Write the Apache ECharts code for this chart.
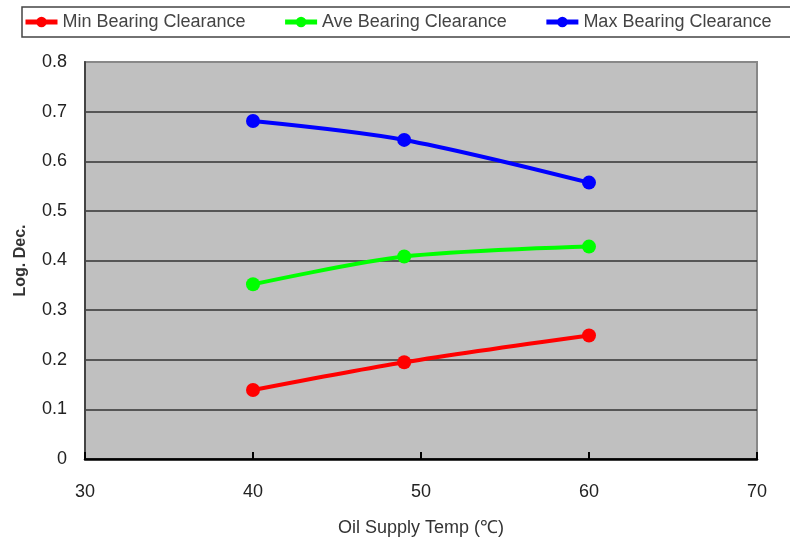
<!DOCTYPE html>
<html>
<head>
<meta charset="utf-8">
<script src="https://cdn.jsdelivr.net/npm/echarts@6/dist/echarts.min.js"></script>
<style>
  html, body { margin: 0; padding: 0; background: #fff; }
  #chart { width: 790px; height: 542px; }
</style>
</head>
<body>
<div id="chart"></div>
<script>
// oil supply temperature (℃)
var temps = [40, 49, 60];
var minClearance = [0.139, 0.195, 0.249];
var aveClearance = [0.352, 0.408, 0.428];
var maxClearance = [0.681, 0.643, 0.557];
var seriesNames = ["Min Bearing Clearance", "Ave Bearing Clearance", "Max Bearing Clearance"];
var seriesColors = ["#ff0000", "#00ff00", "#0000ff"];

function pairs(ys) {
  return temps.map(function (t, i) { return [t, ys[i]]; });
}

var font = "Liberation Sans, Arial, sans-serif";

function makeSeries(idx, ys) {
  return {
    name: seriesNames[idx],
    type: "line",
    data: pairs(ys),
    smooth: 0.3,
    symbol: "circle",
    symbolSize: 14,
    itemStyle: { color: seriesColors[idx] },
    lineStyle: { color: seriesColors[idx], width: 4 },
  };
}

var myChart = echarts.init(document.getElementById("chart"));
myChart.setOption({
  animation: false,
  textStyle: { fontFamily: font },
  legend: {
    left: 22,
    top: 7,
    width: 820,
    padding: [6, 40, 6, 1],
    borderColor: "#444",
    borderWidth: 1.5,
    itemWidth: 32,
    itemHeight: 13,
    itemGap: 37,
    data: seriesNames,
    lineStyle: { width: 5 },
    textStyle: { fontSize: 18, color: "#444", fontFamily: font },
  },
  grid: {
    left: 85,
    right: 33,
    top: 62,
    bottom: 82,
    show: true,
    backgroundColor: "#c0c0c0",
    borderColor: "#888",
    borderWidth: 2,
  },
  xAxis: {
    type: "value",
    min: 30,
    max: 70,
    interval: 10,
    name: "Oil Supply Temp (℃)",
    nameLocation: "middle",
    nameGap: 60,
    nameTextStyle: { fontSize: 18, color: "#333" },
    axisLine: { lineStyle: { color: "#000", width: 2.5 } },
    axisTick: { inside: true, length: 7, lineStyle: { color: "#000", width: 2 } },
    axisLabel: { fontSize: 18, color: "#222", margin: 24 },
    splitLine: { show: false },
  },
  yAxis: {
    type: "value",
    min: 0,
    max: 0.8,
    interval: 0.1,
    name: "Log. Dec.",
    nameLocation: "middle",
    nameGap: 56,
    nameTextStyle: { fontSize: 16, fontWeight: "bold", color: "#333" },
    axisLine: { show: true, lineStyle: { color: "#444", width: 2 } },
    axisTick: { show: false },
    axisLabel: { fontSize: 18, color: "#222", margin: 18 },
    splitLine: {
      show: true,
      showMaxLine: false,
      lineStyle: { color: "#333", width: 1.5 },
    },
  },
  series: [
    makeSeries(0, minClearance),
    makeSeries(1, aveClearance),
    makeSeries(2, maxClearance),
  ],
});
</script>
</body>
</html>
